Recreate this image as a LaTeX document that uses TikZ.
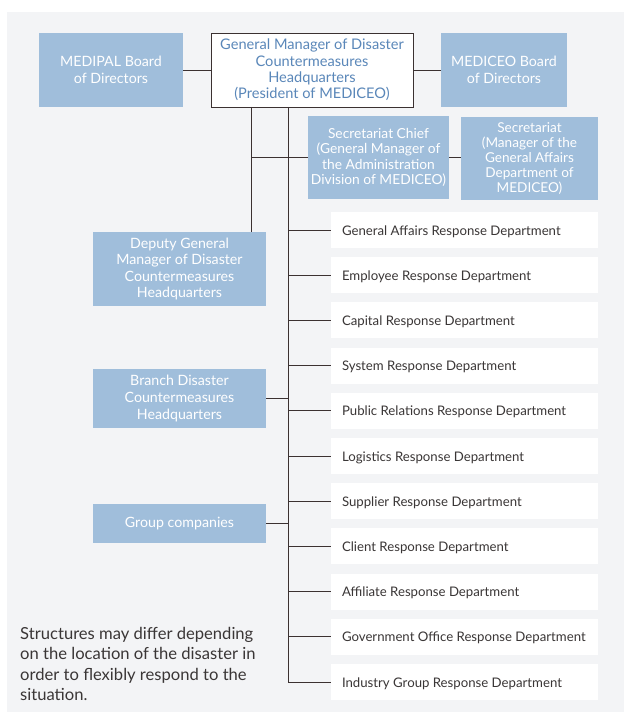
\documentclass[tikz,border=0pt]{standalone}
\usepackage{fontspec}
\setmainfont{Lato}
\definecolor{bg}{HTML}{F3F4F6}
\definecolor{boxblue}{HTML}{A0BEDB}
\definecolor{gmtext}{HTML}{5A87B9}
\definecolor{depttext}{HTML}{3A3636}
\definecolor{linec}{HTML}{3B3131}
\newcommand{\deptlabel}[1]{\raisebox{-5pt}[0pt][0pt]{\makebox[245pt][l]{#1}}}
\begin{document}
\begin{tikzpicture}[x=1pt,y=-1pt,
  bluebox/.style={fill=boxblue,text=white,align=center,inner sep=0pt,
    font=\fontsize{14.2}{16.6}\selectfont},
  gmbox/.style={fill=white,draw=linec,line width=0.9pt,text=gmtext,align=center,inner sep=0pt,
    font=\fontsize{14.6}{16.4}\selectfont},
  deptbox/.style={fill=white,text=depttext,inner sep=0pt,minimum width=267pt,minimum height=36pt,
    font=\fontsize{13.2}{15}\selectfont},
  conn/.style={draw=linec,line width=0.9pt}]
\useasboundingbox (0,0) rectangle (624,714);
\fill[bg] (7,12) rectangle (624,712);

\node[bluebox,minimum width=144pt,minimum height=74pt] (medipal) at (111,70) {MEDIPAL Board\\of Directors};
\node[gmbox,minimum width=202pt,minimum height=74pt] (gm) at (312,70) {General Manager of Disaster\\Countermeasures\\Headquarters\\(President of MEDICEO)};
\node[bluebox,minimum width=126pt,minimum height=74pt] (mediceo) at (504,70) {MEDICEO Board\\of Directors};

\node[bluebox,minimum width=141pt,minimum height=83pt,font=\fontsize{13.8}{15.5}\selectfont] (secchief) at (378.5,157.5) {Secretariat Chief\\(General Manager of\\the Administration\\Division of MEDICEO)};
\node[bluebox,minimum width=137pt,minimum height=83pt,font=\fontsize{13.6}{15}\selectfont] (secr) at (529.5,158.5) {Secretariat\\(Manager of the\\General Affairs\\Department of\\MEDICEO)};

\node[bluebox,minimum width=173pt,minimum height=74pt] (deputy) at (179.5,269) {Deputy General\\Manager of Disaster\\Countermeasures\\Headquarters};
\node[bluebox,minimum width=173pt,minimum height=59pt] (branch) at (179.5,398.5) {Branch Disaster\\Countermeasures\\Headquarters};
\node[bluebox,minimum width=173pt,minimum height=39pt] (group) at (179.5,523.5) {Group companies};

\foreach \i/\t in {1/General Affairs Response Department,
  2/Employee Response Department,
  3/Capital Response Department,
  4/System Response Department,
  5/Public Relations Response Department,
  6/Logistics Response Department,
  7/Supplier Response Department,
  8/Client Response Department,
  9/Affiliate Response Department,
  10/Government Office Response Department,
  11/Industry Group Response Department}{
  \node[deptbox] (dept\i) at (464.5,{230+45.2*(\i-1)}) {\deptlabel{\t}};
}

\node[anchor=north west,inner sep=0pt,text=depttext,align=left,
  font=\fontsize{16.6}{20.5}\selectfont] (note) at (20,627)
  {Structures may differ depending\\on the location of the disaster in\\order to flexibly respond to the\\situation.};

% connectors
\coordinate (t1) at (251,107);
\coordinate (t2) at (288,107);
\draw[conn] (medipal.east) -- (gm.west);
\draw[conn] (gm.east) -- (mediceo.west);
\draw[conn] (t1) -- (t1 |- deputy.north);
\draw[conn] (t2) -- (t2 |- dept11.west) -- (dept11.west);
\draw[conn] (t1 |- secchief.west) -- (secchief.west);
\draw[conn] (secchief.east) -- (secr.west |- secchief.east);
\draw[conn] (branch.east) -- (branch.east -| t2);
\draw[conn] (group.east) -- (group.east -| t2);
\foreach \i in {1,...,10}{
  \draw[conn] (dept\i.west -| t2) -- (dept\i.west);
}
\end{tikzpicture}
\end{document}
